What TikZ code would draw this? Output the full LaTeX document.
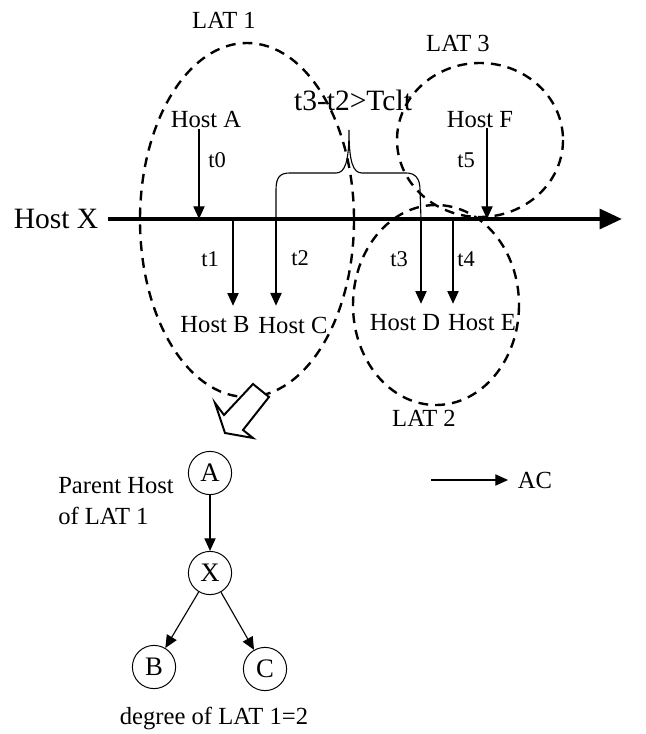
\documentclass[tikz,border=0pt]{standalone}
\usepackage{fontspec}
\setmainfont{Liberation Serif}
\usetikzlibrary{arrows.meta, positioning}

\begin{document}
\begin{tikzpicture}[x=0.025cm, y=-0.025cm, >={Triangle[length=9pt,width=8pt]},
          every node/.style={font=\fontsize{17.5}{22}\selectfont, inner sep=0pt, align=center},
          lat/.style={draw, line width=1.7pt, dash pattern=on 7pt off 5pt},
          tarrow/.style={->, line width=0.8pt},
          tlabel/.style={font=\fontsize{16}{19}\selectfont},
          treenode/.style={draw, circle, minimum size=1.08cm, line width=0.7pt,
                           font=\fontsize{19}{22}\selectfont}]
        \useasboundingbox (0,0) rectangle (645,734);

        \draw[lat] (247,220) ellipse [x radius=107, y radius=177];
        \draw[lat] (480,140) ellipse [x radius=83, y radius=77];
        \draw[lat] (436,305) ellipse [x radius=83, y radius=100];
        \node (lat1) at (224,20) {LAT 1};
        \node (lat3) at (458,43) {LAT 3};
        \node (lat2) at (424,418) {LAT 2};

        % time line of Host X
        \node[font=\fontsize{21}{25}\selectfont] (hostx) at (56,219) {Host X};
        \coordinate (xstart) at (108,219);
        \coordinate (xend)   at (622,219);
        \draw[line width=3pt, -{Triangle[length=16pt,width=14pt]}] (xstart) -- (xend);
        \coordinate (p0) at (199,219);
        \coordinate (p1) at (233,219);
        \coordinate (p2) at (276,219);
        \coordinate (p3) at (421,219);
        \coordinate (p4) at (453,219);
        \coordinate (p5) at (487,219);

        \node (hosta) at (206,120) {Host A};
        \node (hostf) at (480,120) {Host F};
        \node (hostb) at (215,325) {Host B};
        \node (hostc) at (293,325) {Host C};
        \node (hostd) at (405,323) {Host D};
        \node (hoste) at (482,323) {Host E};
        \draw[tarrow] (hosta.south -| p0) -- (p0);
        \draw[tarrow] (hostf.south -| p5) -- (p5);
        \draw[tarrow, shorten >=0.27cm] (p1) -- (p1 |- hostb.north);
        \draw[tarrow, shorten >=0.27cm] (p2) -- (p2 |- hostc.north);
        \draw[tarrow, shorten >=0.27cm] (p3) -- (p3 |- hostd.north);
        \draw[tarrow, shorten >=0.27cm] (p4) -- (p4 |- hoste.north);
        \node[tlabel] (t0) at (217,160) {t0};
        \node[tlabel] (t1) at (210,259) {t1};
        \node[tlabel] (t2) at (300,258) {t2};
        \node[tlabel] (t3) at (399,259) {t3};
        \node[tlabel] (t4) at (466,259) {t4};
        \node[tlabel] (t5) at (466,160) {t5};

        % brace between t2 and t3
        \coordinate (tip) at (349,130);
        \node[font=\fontsize{21}{25}\selectfont] (gap) at (353,100) {t3-t2>Tclt};
        \draw[line width=0.8pt] (p2) -- (276,190) .. controls (276,177) and (280,173) .. (290,173)
              -- (336,173) .. controls (345,173) and (349,162) .. (tip)
              .. controls (349,162) and (353,173) .. (362,173) -- (406,173)
              .. controls (415,173) and (420,178) .. (420,190) -- (p3);

        \draw[line width=1.4pt, fill=white] (253,384) -- (269,397) -- (243,430) -- (253,438)
              -- (225,433) -- (215,403) -- (224,415) -- cycle;

        % tree of LAT 1
        \node[treenode] (a) at (210,473) {A};
        \node[treenode] (x) at (210,573) {X};
        \node[treenode] (b) at (154,667) {B};
        \node[treenode] (c) at (265,669) {C};
        \draw[tarrow] (a) -- (x);
        \draw[tarrow] (x) -- (b);
        \draw[tarrow] (x) -- (c);
        \node[anchor=west, align=left] (parent) at (58,501) {Parent Host\\of LAT 1};
        \node (degree) at (214,718) {degree of LAT 1=2};

        \coordinate (acstart) at (431,480);
        \node (ac) at (535,480) {AC};
        \draw[tarrow, shorten >=0.24cm] (acstart) -- (ac.west);
      \end{tikzpicture}
\end{document}
